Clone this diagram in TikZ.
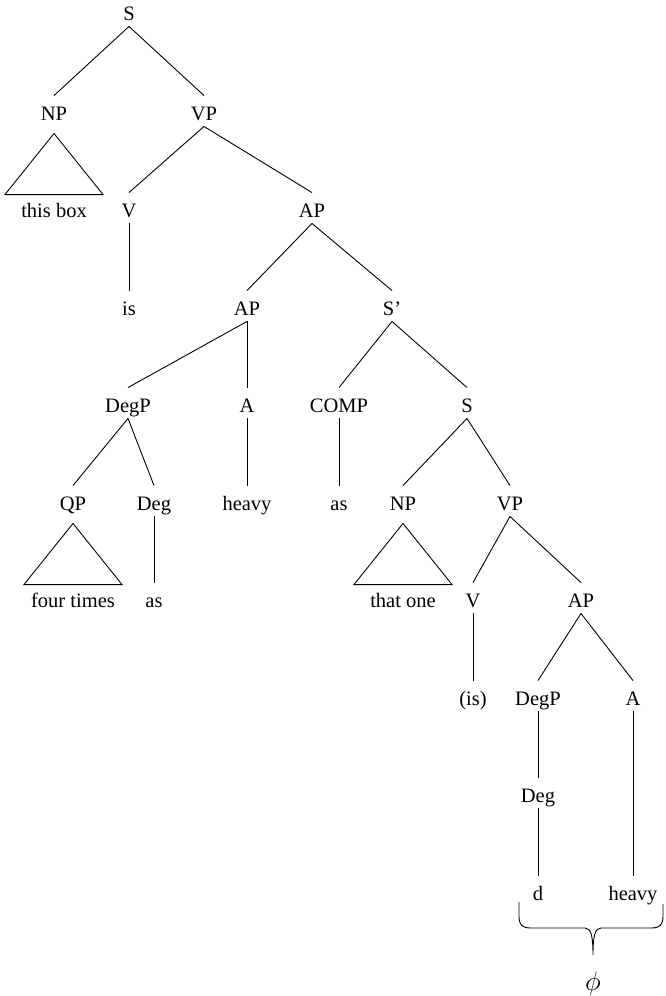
\documentclass[tikz,border=0pt]{standalone}
\usepackage{fontspec}
\setmainfont{Liberation Serif}
\usetikzlibrary{calc}
\begin{document}
\begin{tikzpicture}[x=1pt,y=-1pt,
  lab/.style={inner sep=0pt,anchor=base,text height=24pt,text depth=6pt,font=\fontsize{20.5}{24}\selectfont},
  every path/.style={line width=0.9pt}]
\useasboundingbox (0,0) rectangle (665,996);
% nodes
\node[lab] (S0) at (129,20) {S};
\node[lab] (NP1) at (54,120) {NP};
\node[lab] (VP1) at (204,120) {VP};
\node[lab] (thisbox) at (54,217) {this box};
\node[lab] (V1) at (129,217) {V};
\node[lab] (AP1) at (312,217) {AP};
\node[lab] (is) at (129,315) {is};
\node[lab] (AP2) at (247,315) {AP};
\node[lab] (Sbar) at (392,315) {S’};
\node[lab] (DegP1) at (128,412) {DegP};
\node[lab] (A1) at (247,412) {A};
\node[lab] (COMP) at (339,412) {COMP};
\node[lab] (S2) at (467,412) {S};
\node[lab] (QP) at (73,510) {QP};
\node[lab] (Deg1) at (154,510) {Deg};
\node[lab] (heavy1) at (247,510) {heavy};
\node[lab] (as2) at (339,510) {as};
\node[lab] (NP2) at (403,510) {NP};
\node[lab] (VP2) at (510,510) {VP};
\node[lab] (fourtimes) at (73,607) {four times};
\node[lab] (as1) at (154,607) {as};
\node[lab] (thatone) at (403,607) {that one};
\node[lab] (V2) at (473,607) {V};
\node[lab] (AP3) at (581,607) {AP};
\node[lab] (isp) at (473,705) {(is)};
\node[lab] (DegP2) at (538,705) {DegP};
\node[lab] (A2) at (633,705) {A};
\node[lab] (Deg2) at (538,802) {Deg};
\node[lab] (d) at (538,900) {d};
\node[lab] (heavy2) at (633,900) {heavy};
\node[lab] (phi) at (593,990) {\scalebox{1.3}{$\phi$}};
% edges
\foreach \p/\c in {S0/NP1,S0/VP1,VP1/V1,VP1/AP1,V1/is,AP1/AP2,AP1/Sbar,
  AP2/DegP1,AP2/A1,Sbar/COMP,Sbar/S2,DegP1/QP,DegP1/Deg1,A1/heavy1,COMP/as2,
  S2/NP2,S2/VP2,Deg1/as1,VP2/V2,VP2/AP3,V2/isp,AP3/DegP2,AP3/A2,DegP2/Deg2,
  Deg2/d,A2/heavy2}
  \draw (\p.south) -- (\c.north);
% triangles
\foreach \p/\c in {NP1/thisbox,QP/fourtimes,NP2/thatone}
  \draw ($(\p.south)+(0,7)$) -- ($(\c.north)+(49,2)$) -- ($(\c.north)+(-49,2)$) -- cycle;
% brace
\coordinate (bl) at (519,902);
\coordinate (br) at (663,904);
\draw (bl) -- (519,916) .. controls (519,925) and (522,928) .. (531,928) -- (585,928)
  .. controls (591,928) and (593,936) .. (593,955)
  .. controls (593,936) and (595,928) .. (601,928) -- (651,928)
  .. controls (660,928) and (663,925) .. (663,916) -- (br);
\end{tikzpicture}
\end{document}
